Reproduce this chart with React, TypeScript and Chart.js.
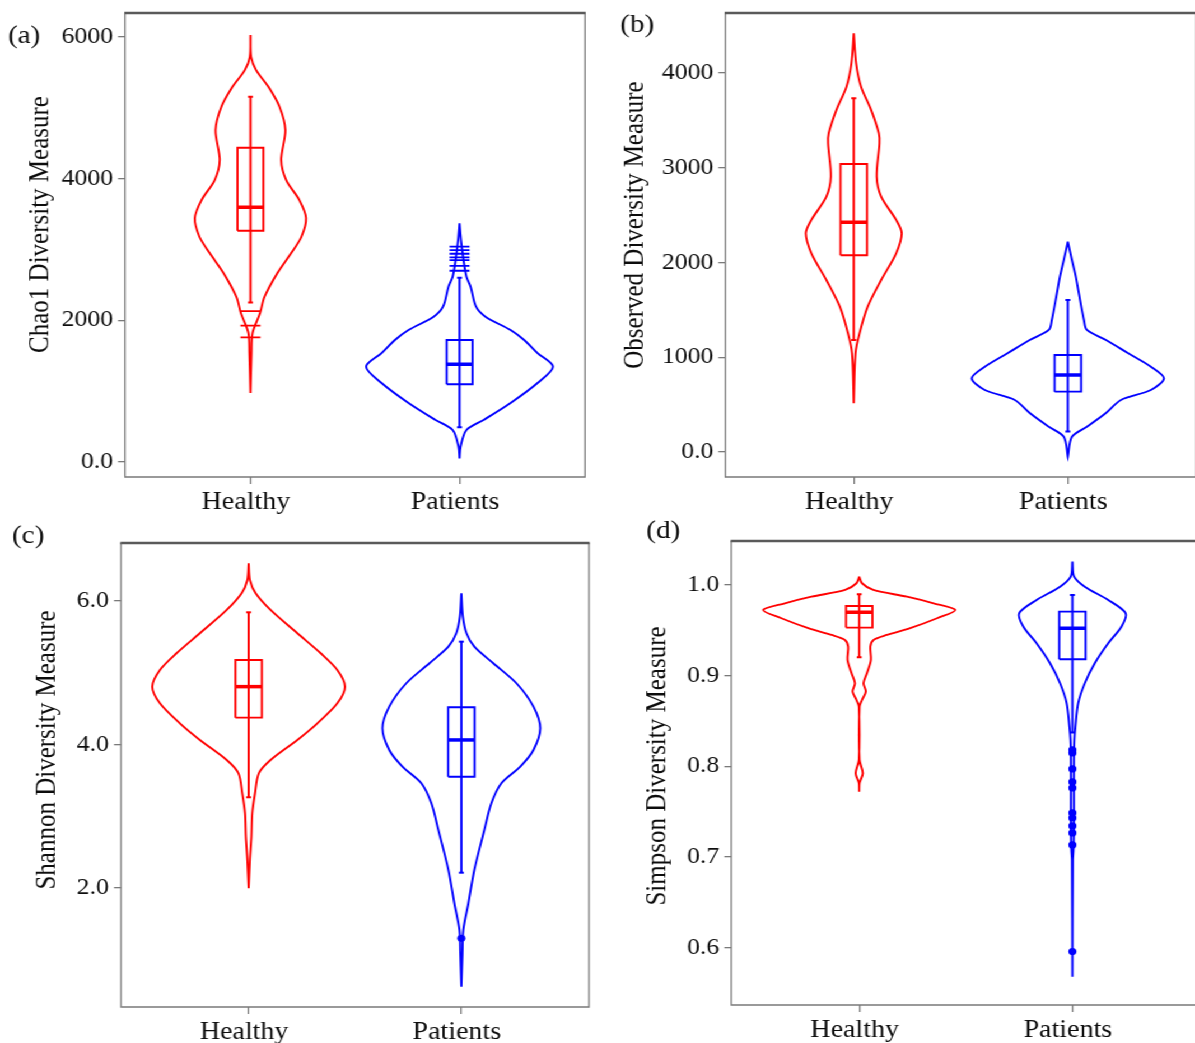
import React, { useEffect, useRef } from 'react';
import { Chart, registerables } from 'chart.js';

Chart.register(...registerables);

// ---------- data ----------
const groups = ['Healthy', 'Patients'];
const groupPos = [1, 2];

// (a) Chao1
const chaoTicks = [0, 2000, 4000, 6000];
const chaoTickLabels = ['0.0', '2000', '4000', '6000'];
const chaoHealthyY = [6027, 5721, 5533, 5297, 5015, 4686, 4263, 3980, 3698, 3444, 3180, 2950, 2668, 2329, 2103, 1821, 1538, 974];
const chaoHealthyW = [0, 0.003, 0.027, 0.086, 0.139, 0.167, 0.147, 0.171, 0.234, 0.266, 0.244, 0.195, 0.129, 0.067, 0.046, 0.010, 0.005, 0];
const chaoPatientsY = [3369, 3133, 2851, 2615, 2474, 2192, 2051, 1863, 1722, 1538, 1345, 1115, 833, 593, 452, 216, 52];
const chaoPatientsW = [0, 0.007, 0.019, 0.033, 0.053, 0.079, 0.124, 0.244, 0.309, 0.373, 0.447, 0.373, 0.244, 0.115, 0.033, 0.005, 0];
const chaoHealthyBox = [2250, 3265, 3595, 4437, 5156];
const chaoPatientsBox = [490, 1097, 1379, 1722, 2602];
const chaoHealthyOut = [2131, 1924, 1760];
const chaoPatientsOut = [3040, 2990, 2940, 2890, 2850, 2770, 2700];

// (b) Observed
const obsTicks = [0, 1000, 2000, 3000, 4000];
const obsTickLabels = ['0.0', '1000', '2000', '3000', '4000'];
const obsHealthyY = [4419, 4102, 3855, 3610, 3364, 3258, 2906, 2694, 2449, 2308, 2097, 1815, 1534, 1253, 1042, 514];
const obsHealthyW = [0, 0.011, 0.034, 0.081, 0.117, 0.120, 0.107, 0.128, 0.198, 0.224, 0.198, 0.128, 0.065, 0.027, 0.008, 0];
const obsPatientsY = [2219, 2026, 1850, 1678, 1393, 1288, 1182, 1045, 900, 778, 654, 549, 412, 267, 161, -50];
const obsPatientsW = [0, 0.019, 0.037, 0.051, 0.075, 0.089, 0.178, 0.280, 0.388, 0.449, 0.388, 0.248, 0.178, 0.089, 0.019, 0];
const obsHealthyBox = [1182, 2076, 2424, 3040, 3733];
const obsPatientsBox = [215, 637, 813, 1024, 1604];

// (c) Shannon
const shanTicks = [2, 4, 6];
const shanTickLabels = ['2.0', '4.0', '6.0'];
const shanHealthyY = [6.525, 6.293, 6.107, 5.875, 5.550, 5.271, 5.038, 4.806, 4.574, 4.295, 4.063, 3.784, 3.599, 3.320, 3.041, 2.715, 2.390, 1.996];
const shanHealthyW = [0, 0.006, 0.033, 0.103, 0.229, 0.339, 0.417, 0.453, 0.417, 0.323, 0.229, 0.103, 0.048, 0.030, 0.017, 0.013, 0.006, 0];
const shanPatientsY = [6.107, 5.781, 5.550, 5.363, 5.132, 4.853, 4.527, 4.226, 3.923, 3.691, 3.459, 3.180, 2.808, 2.251, 1.787, 1.415, 1.090, 0.625];
const shanPatientsW = [0, 0.007, 0.024, 0.061, 0.150, 0.259, 0.339, 0.371, 0.339, 0.277, 0.188, 0.141, 0.108, 0.061, 0.033, 0.009, 0.005, 0];
const shanHealthyBox = [3.264, 4.374, 4.806, 5.178, 5.842];
const shanPatientsBox = [2.213, 3.551, 4.063, 4.518, 5.433];
const shanPatientsOut = [1.299];

// (d) Simpson
const simTicks = [0.6, 0.7, 0.8, 0.9, 1.0];
const simTickLabels = ['0.6', '0.7', '0.8', '0.9', '1.0'];
const simHealthyY = [1.0092, 1.0019, 0.9945, 0.9871, 0.9798, 0.9724, 0.9633, 0.9523, 0.9449, 0.9394, 0.9320, 0.9173, 0.9026, 0.8916, 0.8824, 0.8732, 0.8658, 0.8071, 0.7924, 0.7814, 0.7721];
const simHealthyW = [0, 0.013, 0.066, 0.224, 0.349, 0.451, 0.365, 0.239, 0.130, 0.067, 0.052, 0.055, 0.036, 0.020, 0.031, 0.013, 0.0015, 0.0015, 0.017, 0.0015, 0];
const simPatientsY = [1.0257, 1.0092, 0.9981, 0.9835, 0.9688, 0.9540, 0.9357, 0.9137, 0.8916, 0.8696, 0.8438, 0.829, 0.807, 0.763, 0.730, 0.708, 0.697, 0.568];
const simPatientsW = [0, 0.008, 0.058, 0.168, 0.250, 0.230, 0.168, 0.105, 0.058, 0.027, 0.014, 0.009, 0.007, 0.007, 0.007, 0.005, 0.002, 0];
const simHealthyBox = [0.9203, 0.9530, 0.9699, 0.9768, 0.9897];
const simPatientsBox = [0.8372, 0.9181, 0.9523, 0.9706, 0.989];
const simPatientsOut = [0.8181, 0.8148, 0.7971, 0.7828, 0.7762, 0.7486, 0.7431, 0.7343, 0.7266, 0.7133, 0.5957];

// ---------- style ----------
const S = 1.12; // the figure is stretched horizontally
const FONT = "'Liberation Serif', 'Times New Roman', Times, serif";
const RED = '#ff0000';
const BLUE = '#0000ff';
const BOX_HALF = 0.062;
const TEXT = '#0d0d0d';
const AXIS = '#7a7a7a';

type Group = { ys: number[]; ws: number[]; box: number[]; out: number[]; outKind: 'dash' | 'dot' };
type Spec = {
  x0: number; y0: number; w: number; h: number;
  area: [number, number, number, number];
  yMin: number; yMax: number; ticks: number[]; tickLabels: string[];
  title: string; titlePos: [number, number];
  label: string; labelPos: [number, number];
  healthy: Group; patients: Group;
};

const specs: Spec[] = [
  {
    x0: 0, y0: 0, w: 600, h: 520, area: [125, 13, 585, 477],
    yMin: -212, yMax: 6339, ticks: chaoTicks, tickLabels: chaoTickLabels,
    title: 'Chao1 Diversity Measure', titlePos: [48, 224.5],
    label: '(a)', labelPos: [8, 43],
    healthy: { ys: chaoHealthyY, ws: chaoHealthyW, box: chaoHealthyBox, out: chaoHealthyOut, outKind: 'dash' },
    patients: { ys: chaoPatientsY, ws: chaoPatientsW, box: chaoPatientsBox, out: chaoPatientsOut, outKind: 'dash' },
  },
  {
    x0: 600, y0: 0, w: 610, h: 520, area: [725, 13, 1196, 477],
    yMin: -264, yMax: 4633, ticks: obsTicks, tickLabels: obsTickLabels,
    title: 'Observed Diversity Measure', titlePos: [643, 225],
    label: '(b)', labelPos: [620, 32],
    healthy: { ys: obsHealthyY, ws: obsHealthyW, box: obsHealthyBox, out: [], outKind: 'dot' },
    patients: { ys: obsPatientsY, ws: obsPatientsW, box: obsPatientsBox, out: [], outKind: 'dot' },
  },
  {
    x0: 0, y0: 520, w: 600, h: 523, area: [121, 543, 589, 1007],
    yMin: 0.341, yMax: 6.808, ticks: shanTicks, tickLabels: shanTickLabels,
    title: 'Shannon Diversity Measure', titlePos: [55, 750],
    label: '(c)', labelPos: [12, 543],
    healthy: { ys: shanHealthyY, ws: shanHealthyW, box: shanHealthyBox, out: [], outKind: 'dot' },
    patients: { ys: shanPatientsY, ws: shanPatientsW, box: shanPatientsBox, out: shanPatientsOut, outKind: 'dot' },
  },
  {
    x0: 600, y0: 520, w: 610, h: 523, area: [731, 541, 1200, 1005],
    yMin: 0.5368, yMax: 1.0485, ticks: simTicks, tickLabels: simTickLabels,
    title: 'Simpson Diversity Measure', titlePos: [665, 766],
    label: '(d)', labelPos: [646, 538],
    healthy: { ys: simHealthyY, ws: simHealthyW, box: simHealthyBox, out: [], outKind: 'dot' },
    patients: { ys: simPatientsY, ws: simPatientsW, box: simPatientsBox, out: simPatientsOut, outKind: 'dot' },
  },
];

function violinPoints(center: number, ys: number[], ws: number[]) {
  const right = ys.map((y, i) => ({ x: center + ws[i], y }));
  const left = ys.map((y, i) => ({ x: center - ws[i], y })).reverse();
  return right.concat(left);
}

function groupDatasets(center: number, color: string, g: Group) {
  const [lo, q1, med, q3, hi] = g.box;
  const sets: any[] = [
    {
      data: violinPoints(center, g.ys, g.ws), showLine: true, borderColor: color,
      borderWidth: 1.9, pointRadius: 0, tension: 0.3, fill: false,
    },
    {
      data: [{ x: center, y: lo }, { x: center, y: hi }], showLine: true,
      borderColor: color, borderWidth: 2, pointRadius: 0,
    },
    {
      data: [{ x: center, y: lo }, { x: center, y: hi }], showLine: false,
      pointStyle: 'line', pointRadius: 2.2, borderColor: color, borderWidth: 2,
    },
    {
      data: [
        { x: center - BOX_HALF, y: q1 }, { x: center + BOX_HALF, y: q1 },
        { x: center + BOX_HALF, y: q3 }, { x: center - BOX_HALF, y: q3 },
        { x: center - BOX_HALF, y: q1 },
      ],
      showLine: true, borderColor: color, borderWidth: 1.9, pointRadius: 0,
      borderJoinStyle: 'miter',
    },
    {
      data: [{ x: center - BOX_HALF, y: med }, { x: center + BOX_HALF, y: med }],
      showLine: true, borderColor: color, borderWidth: 3.5, pointRadius: 0,
    },
  ];
  if (g.out.length) {
    const dash = g.outKind === 'dash';
    sets.push({
      data: g.out.map((y) => ({ x: center, y })), showLine: false,
      pointStyle: dash ? 'line' : 'circle', pointRadius: dash ? 10 / S : 3.6,
      borderColor: color, backgroundColor: color, borderWidth: dash ? 1.8 : 0,
    });
  }
  return sets;
}

function Panel({ spec }: { spec: Spec }) {
  const ref = useRef<HTMLCanvasElement>(null);
  const cw = Math.round(spec.w / S);
  const ch = spec.h;
  useEffect(() => {
    const [aL, aT, aR, aB] = spec.area;
    const L = (aL - spec.x0) / S;
    const R = (aR - spec.x0) / S;
    const T = aT - spec.y0;
    const B = aB - spec.y0;
    const framePlugin = {
      id: 'frame',
      afterDatasetsDraw(chart: any) {
        const { left, top, right, bottom } = chart.chartArea;
        const ctx = chart.ctx;
        ctx.save();
        ctx.strokeStyle = AXIS;
        ctx.lineWidth = 1.3;
        ctx.beginPath();
        ctx.moveTo(left, top);
        ctx.lineTo(left, bottom);
        ctx.lineTo(right, bottom);
        ctx.lineTo(right, top);
        ctx.stroke();
        ctx.strokeStyle = '#5a5a5a';
        ctx.lineWidth = 2.6;
        ctx.beginPath();
        ctx.moveTo(left - 0.6, top);
        ctx.lineTo(right + 0.6, top);
        ctx.stroke();
        ctx.restore();
      },
    };
    const textPlugin = {
      id: 'texts',
      afterDraw(chart: any) {
        const ctx = chart.ctx;
        ctx.save();
        ctx.fillStyle = TEXT;
        ctx.font = `25px ${FONT}`;
        ctx.translate((spec.titlePos[0] - spec.x0) / S, spec.titlePos[1] - spec.y0);
        ctx.rotate(-Math.PI / 2);
        ctx.textAlign = 'center';
        ctx.textBaseline = 'alphabetic';
        ctx.fillText(spec.title, 0, 0);
        ctx.restore();
        ctx.save();
        ctx.fillStyle = TEXT;
        ctx.font = `26px ${FONT}`;
        ctx.textAlign = 'left';
        ctx.textBaseline = 'alphabetic';
        ctx.fillText(spec.label, (spec.labelPos[0] - spec.x0) / S, spec.labelPos[1] - spec.y0);
        ctx.restore();
      },
    };
    const datasets = [
      ...groupDatasets(groupPos[0], RED, spec.healthy),
      ...groupDatasets(groupPos[1], BLUE, spec.patients),
    ];
    const chart = new Chart(ref.current as HTMLCanvasElement, {
      type: 'scatter',
      data: { datasets },
      options: {
        animation: false,
        responsive: false,
        maintainAspectRatio: false,
        events: [],
        layout: { autoPadding: false, padding: { left: 0, top: T, right: cw - R, bottom: 0 } },
        plugins: { legend: { display: false }, tooltip: { enabled: false }, title: { display: false } },
        scales: {
          x: {
            type: 'linear', min: 0.4, max: 2.6,
            afterBuildTicks: (s: any) => { s.ticks = groupPos.map((v) => ({ value: v })); },
            afterFit: (s: any) => { s.height = ch - B; s.paddingLeft = 0; s.paddingRight = 0; },
            ticks: {
              autoSkip: false, maxRotation: 0, minRotation: 0, padding: 3, color: TEXT,
              labelOffset: -4.5 / S,
              font: { family: FONT, size: 25 },
              callback: (v: any) => groups[groupPos.indexOf(Math.round(Number(v)))] ?? '',
            },
            grid: { display: true, drawOnChartArea: false, drawTicks: true, tickLength: 7, color: AXIS, lineWidth: 1.3 },
            border: { display: false },
          },
          y: {
            type: 'linear', min: spec.yMin, max: spec.yMax,
            afterBuildTicks: (s: any) => { s.ticks = spec.ticks.map((v) => ({ value: v })); },
            afterFit: (s: any) => { s.width = L; s.paddingTop = 0; s.paddingBottom = 0; },
            ticks: {
              autoSkip: false, padding: 5 / S, color: TEXT,
              font: { family: FONT, size: 23 },
              callback: (_v: any, i: number) => spec.tickLabels[i],
            },
            grid: { display: true, drawOnChartArea: false, drawTicks: true, tickLength: 7 / S, color: AXIS, lineWidth: 1.3 },
            border: { display: false },
          },
        },
      } as any,
      plugins: [framePlugin, textPlugin],
    });
    return () => chart.destroy();
  }, []);
  return (
    <canvas
      ref={ref}
      width={cw}
      height={ch}
      style={{ position: 'absolute', left: spec.x0 / S, top: spec.y0 }}
    />
  );
}

export default function App() {
  return (
    <div
      style={{
        position: 'absolute', left: 0, top: 0, width: 1195 / S, height: 1043,
        overflow: 'hidden', background: '#ffffff',
        transform: `scaleX(${S})`, transformOrigin: '0 0',
      }}
    >
      {specs.map((s) => (
        <Panel key={s.label} spec={s} />
      ))}
    </div>
  );
}
